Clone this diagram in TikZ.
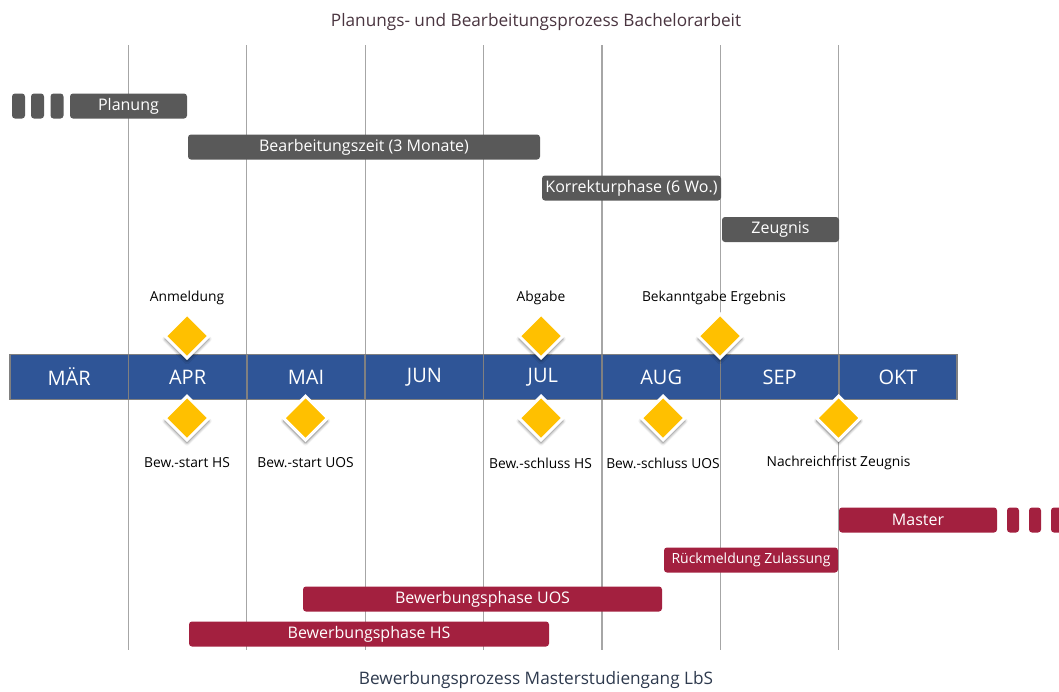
\documentclass[tikz,border=0pt]{standalone}
\usepackage{fontspec}
\setmainfont{Open Sans}
\usetikzlibrary{shapes.geometric,shadows.blur}

\definecolor{barblue}{HTML}{2F5597}
\definecolor{bargrey}{HTML}{595959}
\definecolor{barred}{HTML}{A3203F}
\definecolor{msyellow}{HTML}{FFC000}
\definecolor{gridgrey}{HTML}{A6A6A6}
\definecolor{titlered}{HTML}{4A3540}
\definecolor{titleblue}{HTML}{2E3A4E}

\tikzset{
  gbar/.style={fill=bargrey, rounded corners=3pt, text=white, minimum height=25pt,
    inner sep=0pt, font=\fontsize{16}{18}\selectfont},
  rbar/.style={gbar, fill=barred},
  month/.style={fill=barblue, draw=gray, line width=1.5pt, minimum width=118.4pt,
    minimum height=45pt, inner sep=0pt, text=white, font=\fontsize{20}{22}\selectfont},
  ms/.style={diamond, fill=msyellow, draw=white, line width=3pt, minimum width=45pt,
    minimum height=45pt, inner sep=0pt,
    blur shadow={shadow xshift=0pt, shadow yshift=-3pt, shadow blur radius=3pt,
      shadow blur steps=6, shadow opacity=55}},
  lbl/.style={font=\fontsize{13.8}{15}\selectfont},
  gridline/.style={draw=gridgrey, line width=1.2pt}
}

\begin{document}
\begin{tikzpicture}[x=1pt, y=-1pt]
\useasboundingbox (0,0) rectangle (1059,691);

%titles
\node[text=titlered, font=\fontsize{17.2}{19}\selectfont] (ttop) at (536,22) {Planungs- und Bearbeitungsprozess Bachelorarbeit};
\node[text=titleblue, font=\fontsize{17.2}{19}\selectfont] (tbot) at (536,680) {Bewerbungsprozess Masterstudiengang LbS};

%months
\foreach \m [count=\i from 0] in {MÄR,APR,MAI,JUN,JUL,AUG,SEP,OKT}
  \coordinate (c\i) at ({69.2+118.4*\i},377);
\foreach \i in {1,...,7}
  \draw[gridline] ([xshift=-59.2pt]c\i |- 0,45) -- ([xshift=-59.2pt]c\i |- 0,650);

%bachelor
\foreach \x [count=\i] in {18.5,37.5,57}
  \node[gbar, minimum width=13pt] (pdot\i) at (\x,106) {};
\node[gbar, minimum width=117pt] (plan) at (128.5,106) {Planung};
\node[gbar, minimum width=352pt] (bearb) at (364,147) {Bearbeitungszeit (3 Monate)};
\node[gbar, minimum width=179pt] (korr) at (631.5,188) {Korrekturphase (6 Wo.)};
\node[gbar, minimum width=117pt] (zeug) at (780.5,229.5) {Zeugnis};

%master
\node[rbar, minimum width=158pt] (master) at (918,520) {Master};
\foreach \x [count=\i] in {1013,1035,1057}
  \node[rbar, minimum width=12pt] (mdot\i) at (\x,520) {};
\node[rbar, minimum width=174pt, font=\fontsize{14}{16}\selectfont] (rueck) at (751,560) {Rückmeldung Zulassung};
\node[rbar, minimum width=359pt] (bewuos) at (482.5,599) {Bewerbungsphase UOS};
\node[rbar, minimum width=360pt] (bewhs) at (369,634) {Bewerbungsphase HS};

%timeline
\foreach \m [count=\i from 0] in {MÄR,APR,MAI,JUN,JUL,AUG,SEP,OKT}
  \node[month] (mon\i) at (c\i) {\m};

%milestones above
\node[ms] (anm) at (187,336) {};
\node[ms] (abg) at (541,336) {};
\node[ms] (bek) at (720,336) {};
\node[lbl] (anmlbl) at (187,298) {Anmeldung};
\node[lbl] (abglbl) at (541,298) {Abgabe};
\node[lbl] (beklbl) at (714,298) {Bekanntgabe Ergebnis};

%milestones below
\node[ms] (bshs) at (187,418) {};
\node[ms] (bsuos) at (305.5,418) {};
\node[ms] (bzhs) at (541,418) {};
\node[ms] (bzuos) at (663,418) {};
\node[ms] (nach) at (838.5,418) {};
\node[lbl] (bshslbl) at (187,463) {Bew.-start HS};
\node[lbl] (bsuoslbl) at (305.5,463) {Bew.-start UOS};
\node[lbl] (bzhslbl) at (540.5,463) {Bew.-schluss HS};
\node[lbl] (bzuoslbl) at (663,463) {Bew.-schluss UOS};
\node[lbl] (nachlbl) at (838.5,463) {Nachreichfrist Zeugnis};
\end{tikzpicture}
\end{document}
